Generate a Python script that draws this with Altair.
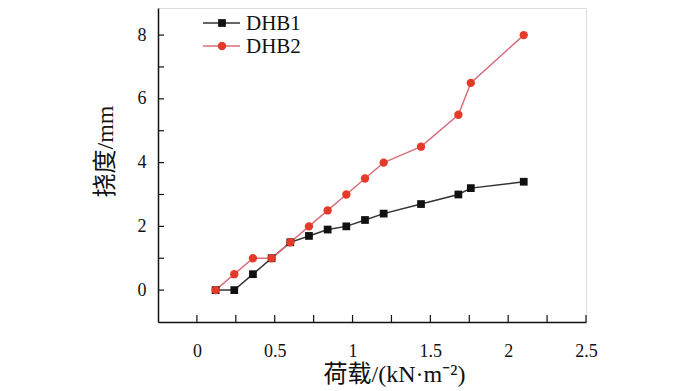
import altair as alt
import pandas as pd

# ---- data ----
load = [0.12, 0.24, 0.36, 0.48, 0.60, 0.72, 0.84, 0.96, 1.08, 1.20, 1.44, 1.68, 1.76, 2.10]
dhb1 = [0.0, 0.0, 0.5, 1.0, 1.5, 1.7, 1.9, 2.0, 2.2, 2.4, 2.7, 3.0, 3.2, 3.4]
dhb2 = [0.0, 0.5, 1.0, 1.0, 1.5, 2.0, 2.5, 3.0, 3.5, 4.0, 4.5, 5.5, 6.5, 8.0]
series_names = ["DHB1", "DHB2"]
x_label_values = [0, 0.5, 1, 1.5, 2, 2.5]
y_label_values = [0, 2, 4, 6, 8]
x_tick_values = [0, 0.25, 0.5, 0.75, 1.0, 1.25, 1.5, 1.75, 2.0, 2.25, 2.5]
y_tick_values = [0, 1, 2, 3, 4, 5, 6, 7, 8]

SERIF = "Liberation Serif, Noto Sans CJK SC"
C1_LINE, C1_PT = "#333333", "#111111"
C2_LINE, C2_PT = "#d9707c", "#e53a2a"

W, H = 428, 314

df1 = pd.DataFrame({"load": load, "defl": dhb1})
df2 = pd.DataFrame({"load": load, "defl": dhb2})

xs = alt.Scale(domain=[-0.25, 2.5], nice=False, zero=False)
ys = alt.Scale(domain=[-1, 8.85], nice=False, zero=False)

xaxis = alt.Axis(values=x_label_values, format="~g", title="荷载/(kN·m⁻²)",
                 ticks=False, grid=False, labelPadding=20, titlePadding=2,
                 titleX=236, titleAlign="center",
                 labelFont=SERIF, labelFontSize=18, titleFont=SERIF, titleFontSize=24,
                 titleFontWeight="normal", labelColor="#111", titleColor="#111",
                 domainColor="#111", domainWidth=1.5, labelOverlap=False, labelBound=False,
                 labelFlush=False)
yaxis = alt.Axis(values=y_label_values, format="~g", title="挠度/mm",
                 ticks=False, grid=False, labelPadding=12, titlePadding=20,
                 titleY=143, titleAlign="center",
                 labelFont=SERIF, labelFontSize=18, titleFont=SERIF, titleFontSize=24,
                 titleFontWeight="normal", labelColor="#111", titleColor="#111",
                 domainColor="#111", domainWidth=1.5, labelOverlap=False)

X = alt.X("load:Q", scale=xs, axis=xaxis)
Y = alt.Y("defl:Q", scale=ys, axis=yaxis)

line1 = alt.Chart(df1).mark_line(color=C1_LINE, strokeWidth=1.5).encode(x=X, y=Y)
pts1 = alt.Chart(df1).mark_point(shape="square", filled=True, size=60, color=C1_PT, opacity=1).encode(x=X, y=Y)
line2 = alt.Chart(df2).mark_line(color=C2_LINE, strokeWidth=1.5).encode(x=X, y=Y)
pts2 = alt.Chart(df2).mark_point(shape="circle", filled=True, size=70, color=C2_PT, opacity=1).encode(x=X, y=Y)

# inward ticks
xt = alt.Chart(pd.DataFrame({"t": x_tick_values})).mark_rule(color="#111", strokeWidth=1.2).encode(
    x=alt.X("t:Q", scale=xs), y=alt.value(H), y2=alt.value(H - 7))
yt = alt.Chart(pd.DataFrame({"t": y_tick_values})).mark_rule(color="#111", strokeWidth=1.2).encode(
    y=alt.Y("t:Q", scale=ys), x=alt.value(0), x2=alt.value(6))

# manual legend
leg = []
for name, yy, lc, pc, shp, sz in [(series_names[0], 15, C1_LINE, C1_PT, "square", 60),
                                   (series_names[1], 38, C2_LINE, C2_PT, "circle", 70)]:
    d = pd.DataFrame({"name": [name]})
    leg.append(alt.Chart(d).mark_rule(color=lc, strokeWidth=1.5).encode(
        x=alt.value(45), x2=alt.value(82), y=alt.value(yy)))
    leg.append(alt.Chart(d).mark_point(shape=shp, filled=True, size=sz, color=pc, opacity=1).encode(
        x=alt.value(64), y=alt.value(yy)))
    leg.append(alt.Chart(d).mark_text(align="left", baseline="middle", font=SERIF, fontSize=21,
                                      color="#111").encode(
        x=alt.value(88), y=alt.value(yy + 1), text="name:N"))

chart = alt.layer(line1, line2, pts1, pts2, xt, yt, *leg).properties(
    width=W, height=H,
    autosize=alt.AutoSizeParams(type="none"),
    padding={"left": 150, "top": 0, "right": 106, "bottom": 68},
).configure_view(stroke=None).configure(background="white")

chart.save("out.html", embed_options={"renderer": "svg", "actions": False})
